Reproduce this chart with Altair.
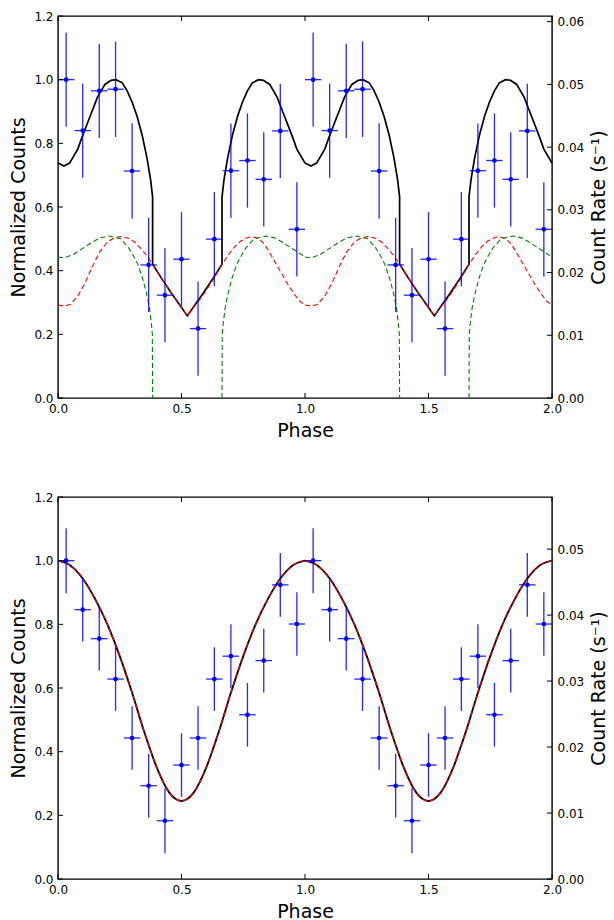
import altair as alt
import pandas as pd

# ---------------- values (one phase cycle, shown twice) ----------------
bin_phase = [0.033, 0.100, 0.167, 0.233, 0.300, 0.367, 0.433, 0.500,
             0.567, 0.633, 0.700, 0.767, 0.833, 0.900, 0.967]
BIN_HALF = 0.0333

top_counts = [1.000, 0.840, 0.965, 0.970, 0.713, 0.418, 0.323, 0.436,
              0.218, 0.499, 0.714, 0.746, 0.687, 0.839, 0.530]
top_err = [0.148, 0.148, 0.148, 0.150, 0.150, 0.148, 0.148, 0.148,
           0.148, 0.148, 0.148, 0.148, 0.148, 0.148, 0.148]

bot_counts = [1.000, 0.846, 0.755, 0.628, 0.443, 0.293, 0.183, 0.358,
              0.443, 0.628, 0.700, 0.516, 0.686, 0.924, 0.801]
bot_err = [0.102, 0.100, 0.100, 0.100, 0.100, 0.100, 0.102, 0.100,
           0.100, 0.100, 0.100, 0.100, 0.100, 0.100, 0.100]

# top panel: total model (black)
tot_phase = [0.000, 0.024, 0.047, 0.080, 0.100, 0.130, 0.160, 0.190, 0.215, 0.235,
             0.260, 0.280, 0.300, 0.320, 0.340, 0.360, 0.375, 0.383, 0.383, 0.420,
             0.460, 0.500, 0.5235, 0.547, 0.587, 0.627, 0.664, 0.664, 0.672, 0.687,
             0.707, 0.727, 0.747, 0.767, 0.787, 0.812, 0.832, 0.857, 0.887, 0.917,
             0.947, 0.967, 1.000]
tot_val = [0.738, 0.729, 0.738, 0.782, 0.825, 0.885, 0.945, 0.985, 0.998, 1.000,
           0.990, 0.965, 0.930, 0.885, 0.828, 0.755, 0.685, 0.632, 0.420, 0.375,
           0.328, 0.284, 0.258, 0.284, 0.328, 0.375, 0.420, 0.632, 0.685, 0.755,
           0.828, 0.885, 0.930, 0.965, 0.990, 1.000, 0.998, 0.985, 0.945, 0.885,
           0.825, 0.782, 0.738]

# top panel: first spot (red dashed)
spot1_phase = [0.000, 0.0235, 0.050, 0.080, 0.110, 0.140, 0.170, 0.200, 0.230, 0.258,
               0.285, 0.310, 0.335, 0.360, 0.383, 0.420, 0.460, 0.500, 0.5235, 0.547,
               0.565, 0.587, 0.627, 0.664, 0.690, 0.714, 0.740, 0.768, 0.785, 0.810,
               0.830, 0.849, 0.875, 0.903, 0.930, 0.957, 0.980, 1.000]
spot1_val = [0.292, 0.289, 0.294, 0.320, 0.362, 0.415, 0.460, 0.490, 0.504, 0.507,
             0.502, 0.490, 0.470, 0.447, 0.420, 0.375, 0.328, 0.284, 0.258, 0.284,
             0.300, 0.323, 0.370, 0.420, 0.450, 0.474, 0.493, 0.504, 0.507, 0.502,
             0.488, 0.467, 0.432, 0.394, 0.358, 0.326, 0.303, 0.292]

# top panel: second spot (green dashed), before and after its eclipse
spot2a_phase = [0.000, 0.025, 0.060, 0.100, 0.140, 0.170, 0.208, 0.253, 0.283, 0.303,
                0.323, 0.343, 0.358, 0.370, 0.378, 0.382, 0.383]
spot2a_val = [0.443, 0.440, 0.450, 0.470, 0.490, 0.503, 0.509, 0.500, 0.475, 0.450,
              0.420, 0.375, 0.330, 0.285, 0.235, 0.200, 0.000]
spot2b_phase = [0.664, 0.665, 0.669, 0.677, 0.689, 0.704, 0.724, 0.744, 0.764, 0.794,
                0.842, 0.877, 0.907, 0.947, 0.987, 1.000]
spot2b_val = [0.000, 0.200, 0.235, 0.285, 0.330, 0.375, 0.420, 0.450, 0.475, 0.500,
              0.509, 0.503, 0.490, 0.470, 0.450, 0.443]

# bottom panel model (black solid = red dashed)
bfit_phase = [0.000, 0.050, 0.100, 0.150, 0.200, 0.250, 0.300, 0.350, 0.400, 0.450,
              0.475, 0.500, 0.525, 0.550, 0.600, 0.650, 0.700, 0.750, 0.800, 0.850,
              0.900, 0.950, 1.000]
bfit_val = [1.000, 0.985, 0.944, 0.880, 0.800, 0.700, 0.585, 0.460, 0.350, 0.272,
            0.252, 0.245, 0.252, 0.272, 0.350, 0.460, 0.585, 0.700, 0.800, 0.880,
            0.944, 0.985, 1.000]

cycles = [0, 1]
x_ticks = [0.0, 0.5, 1.0, 1.5, 2.0]
y_ticks = [0.0, 0.2, 0.4, 0.6, 0.8, 1.0, 1.2]
top_rate_ticks = [0.00, 0.01, 0.02, 0.03, 0.04, 0.05, 0.06]
bot_rate_ticks = [0.00, 0.01, 0.02, 0.03, 0.04, 0.05]
TOP_RATE_MAX = 0.0609
BOT_RATE_MAX = 0.0579

# ---------------- layout / style ----------------
W, H = 494, 382
TICK = 5
FONT = "DejaVu Sans"

x_scale = alt.Scale(domain=[0, 2], nice=False, zero=False, padding=0)
y_scale = alt.Scale(domain=[0, 1.2], nice=False, padding=0)
x_axis = alt.Axis(values=x_ticks, format=".1f", title="Phase", labelPadding=5,
                  titlePadding=7, labelFlush=False)
y_axis = alt.Axis(values=y_ticks, format=".1f", title="Normalized Counts", labelPadding=5,
                  titlePadding=5, labelFlush=False)


def X(f):
    return alt.X(f"{f}:Q", scale=x_scale, axis=x_axis)


def Y(f):
    return alt.Y(f"{f}:Q", scale=y_scale, axis=y_axis)


def points_df(vals, errs):
    rows = []
    for c in cycles:
        for p, v, e in zip(bin_phase, vals, errs):
            rows.append(dict(phase=p + c, val=v, lo=v - e, hi=v + e,
                             xlo=p + c - BIN_HALF, xhi=p + c + BIN_HALF))
    return pd.DataFrame(rows)


def curve_df(parts):
    rows = []
    i = 0
    for c in cycles:
        for k, (ph, vs) in enumerate(parts):
            for p, v in zip(ph, vs):
                rows.append(dict(phase=p + c, val=v, idx=i, seg=c * len(parts) + k))
                i += 1
    return pd.DataFrame(rows)


def line(df, color, width, dash=None, interp="linear"):
    kw = dict(color=color, strokeWidth=width, interpolate=interp)
    if dash:
        kw["strokeDash"] = dash
    return alt.Chart(df).mark_line(**kw).encode(
        x=X("phase"), y=Y("val"), detail="seg:N", order="idx:Q")


def panel(pts, curves, rate_max, rate_ticks):
    base = alt.Chart(pts)
    ebar_y = base.mark_rule(color="#0000ff", strokeWidth=1.3, opacity=0.85).encode(
        x=X("phase"), y=Y("lo"), y2="hi")
    ebar_x = base.mark_rule(color="#0000ff", strokeWidth=1.3, opacity=0.85).encode(
        x=X("xlo"), x2="xhi", y=Y("val"))
    dots = base.mark_circle(color="#0000ff", size=22, opacity=1).encode(
        x=X("phase"), y=Y("val"))
    ydf = pd.DataFrame({"v": y_ticks})
    xdf = pd.DataFrame({"p": x_ticks})
    lt = alt.Chart(ydf).mark_rule(color="black", strokeWidth=1).encode(
        y=Y("v"), x=alt.value(0), x2=alt.value(TICK))
    bt = alt.Chart(xdf).mark_rule(color="black", strokeWidth=1).encode(
        x=X("p"), y=alt.value(H), y2=alt.value(H - TICK))
    tt = alt.Chart(xdf).mark_rule(color="black", strokeWidth=1).encode(
        x=X("p"), y=alt.value(0), y2=alt.value(TICK))
    inner = alt.layer(*curves, ebar_y, ebar_x, dots, lt, bt, tt)
    right = alt.Chart(pd.DataFrame({"r": rate_ticks})).mark_rule(
        color="black", strokeWidth=1).encode(
        y=alt.Y("r:Q", scale=alt.Scale(domain=[0, rate_max], nice=False, padding=0),
                axis=alt.Axis(orient="right", values=rate_ticks, format=".2f",
                              title="Count Rate (s⁻¹)", titleAngle=270,
                              titleBaseline="top", labelPadding=5, titlePadding=6,
                              labelFlush=False)),
        x=alt.value(W - TICK), x2=alt.value(W))
    return alt.layer(inner, right).resolve_scale(y="independent").properties(width=W, height=H)


top_pts = points_df(top_counts, top_err)
bot_pts = points_df(bot_counts, bot_err)

top_tot = curve_df([(tot_phase, tot_val)])
top_s1 = curve_df([(spot1_phase, spot1_val)])
top_s2 = curve_df([(spot2a_phase, spot2a_val), (spot2b_phase, spot2b_val)])
bot_fit = curve_df([(bfit_phase, bfit_val)])

top = panel(top_pts, [line(top_tot, "black", 1.7),
                      line(top_s1, "#ff0000", 1.1, [5, 3]),
                      line(top_s2, "#008000", 1.1, [5, 3])],
            TOP_RATE_MAX, top_rate_ticks)
bottom = panel(bot_pts, [line(bot_fit, "black", 1.9, interp="monotone"),
                         line(bot_fit, "#ff0000", 1.1, [5, 3], interp="monotone")],
               BOT_RATE_MAX, bot_rate_ticks)

chart = alt.vconcat(top, bottom, spacing=49).properties(
    padding={"left": 9, "top": 9, "right": 0, "bottom": 0}
).configure(
    background="white"
).configure_view(
    stroke="black", strokeWidth=1.4
).configure_axis(
    domain=False, ticks=False, tickSize=0, grid=False, labelFlush=False,
    labelFont=FONT, labelFontSize=12, labelColor="black",
    titleFont=FONT, titleFontSize=19, titleFontWeight="normal", titleColor="black"
)

chart.save("out.html", embed_options={"renderer": "svg", "actions": False})
